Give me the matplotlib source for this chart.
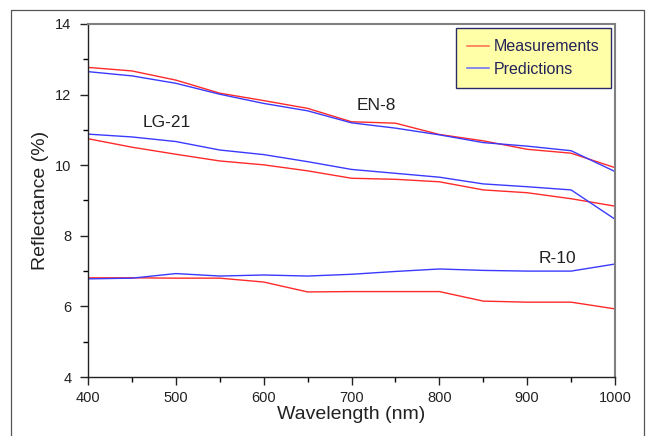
import matplotlib
matplotlib.use("Agg")
import matplotlib.pyplot as plt
from matplotlib.lines import Line2D
from matplotlib.ticker import MultipleLocator

plt.rcParams["font.family"] = ["Liberation Sans", "DejaVu Sans"]

# ── data ──────────────────────────────────────────────────────────────────────
wavelength = [400, 450, 500, 550, 600, 650, 700, 750, 800, 850, 900, 950, 1000]

en8_meas = [12.77, 12.67, 12.41, 12.04, 11.83, 11.61, 11.23, 11.19, 10.87, 10.69, 10.45, 10.34, 9.93]
en8_pred = [12.65, 12.53, 12.32, 12.01, 11.75, 11.54, 11.20, 11.05, 10.86, 10.64, 10.54, 10.41, 9.82]

lg21_meas = [10.75, 10.51, 10.31, 10.12, 10.01, 9.84, 9.63, 9.60, 9.53, 9.30, 9.22, 9.05, 8.84]
lg21_pred = [10.88, 10.80, 10.67, 10.43, 10.30, 10.10, 9.88, 9.77, 9.66, 9.47, 9.39, 9.30, 8.47]

r10_meas = [6.81, 6.81, 6.80, 6.80, 6.69, 6.41, 6.42, 6.42, 6.42, 6.15, 6.12, 6.12, 5.93]
r10_pred = [6.78, 6.80, 6.93, 6.86, 6.89, 6.86, 6.91, 6.99, 7.06, 7.02, 7.00, 7.00, 7.20]

labels = ["EN-8", "LG-21", "R-10"]
label_pos = [(728, 11.68), (490, 11.2), (934, 7.37)]

RED = "#ff2a2a"
BLUE = "#3a3aff"

fig = plt.figure(figsize=(6.51, 4.36), dpi=100)
ax = fig.add_axes([0.1352, 0.1353, 0.8095, 0.8097])

for meas, pred in [(en8_meas, en8_pred), (lg21_meas, lg21_pred), (r10_meas, r10_pred)]:
    ax.plot(wavelength, meas, color=RED, lw=1.0)
    ax.plot(wavelength, pred, color=BLUE, lw=1.0)

for name, (x, y) in zip(labels, label_pos):
    ax.text(x, y, name, fontsize=12.5, ha="center", va="center", color="#222222")

ax.set_xlim(400, 1000)
ax.set_ylim(4, 14)
ax.xaxis.set_major_locator(MultipleLocator(100))
ax.xaxis.set_minor_locator(MultipleLocator(50))
ax.yaxis.set_major_locator(MultipleLocator(2))
ax.yaxis.set_minor_locator(MultipleLocator(1))
ax.tick_params(which="major", direction="out", length=6, width=1, labelsize=10.5,
               colors="#222222")
ax.tick_params(axis="x", which="major", pad=4)
ax.tick_params(axis="y", which="major", pad=6)
ax.tick_params(which="minor", direction="out", length=3.5, width=1)
ax.set_xlabel("Wavelength (nm)", fontsize=14, labelpad=1, color="#222222")
ax.set_ylabel("Reflectance (%)", fontsize=14, labelpad=4, color="#222222")

for side in ["left", "bottom"]:
    ax.spines[side].set_color("#222222")
    ax.spines[side].set_linewidth(1.0)
for side in ["top", "right"]:
    ax.spines[side].set_color("#808080")
    ax.spines[side].set_linewidth(1.5)

handles = [Line2D([], [], color="#ff6a50", lw=1.1),
           Line2D([], [], color="#6a6aff", lw=1.1)]
leg = ax.legend(handles, ["Measurements", "Predictions"], loc="upper right",
                bbox_to_anchor=(0.9925, 0.988), fontsize=11.5, frameon=True,
                fancybox=False, handlelength=1.4, borderpad=0.7,
                labelspacing=0.45, handletextpad=0.3, labelcolor="#23235a",
                borderaxespad=0)
leg.get_frame().set_facecolor("#ffffa8")
leg.get_frame().set_edgecolor("#2a2a6a")
leg.get_frame().set_linewidth(1.0)
leg.get_frame().set_alpha(1)

# outer frame around the figure (open at the bottom)
W, H = 651, 436
fx = [11 / W, 11 / W, 644 / W, 644 / W]
fy = [0, 1 - 10 / H, 1 - 10 / H, 0]
fig.add_artist(Line2D(fx, fy, transform=fig.transFigure, color="#555555", lw=0.9))

fig.savefig("out.png", dpi=100)
